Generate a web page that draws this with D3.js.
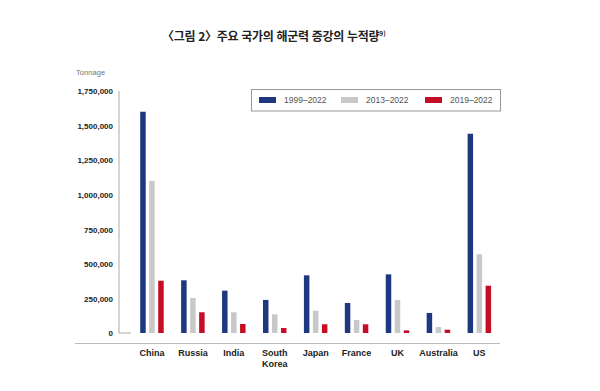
<!DOCTYPE html>
<html lang="ko">
<head>
<meta charset="UTF-8">
<style>
  body { margin: 0; background: #fff; }
  text { font-family: "Liberation Sans", Arial, sans-serif; }
  .title { font-family: "Noto Sans CJK KR", sans-serif; font-weight: bold; font-size: 12px; fill: #222; letter-spacing: -0.3px; }
  .axis-y text { font-weight: bold; font-size: 8px; fill: #222; }
  .cat { font-weight: bold; font-size: 9px; fill: #222; }
  .legend text { font-size: 8.5px; fill: #555; }
</style>
<script src="https://d3js.org/d3.v7.min.js"></script>
</head>
<body>
<svg id="chart"></svg>
<script>
var categories = ['China', 'Russia', 'India', 'South Korea', 'Japan', 'France', 'UK', 'Australia', 'US'];
var series = ['1999–2022', '2013–2022', '2019–2022'];
var v1999 = [1600000, 381000, 306000, 239000, 417000, 217000, 424000, 145000, 1441000];
var v2013 = [1100000, 253000, 150000, 135000, 161000, 94000, 239000, 43000, 569000];
var v2019 = [378000, 150000, 65000, 36000, 63000, 63000, 19000, 24000, 342000];
var yTicks = [0, 250000, 500000, 750000, 1000000, 1250000, 1500000, 1750000];
var colors = ['#1e3880', '#c8c8c8', '#c50e25'];

var values = [v1999, v2013, v2019];
var width = 600, height = 391;
var svg = d3.select('#chart').attr('width', width).attr('height', height);

var x0 = d3.scaleBand().domain(categories).range([131.5, 499.8]).padding(0);
var x1 = d3.scaleBand().domain(series).range([-13.5, 13.5])
  .paddingInner(0.39).paddingOuter(0.195);
var y = d3.scaleLinear().domain([0, 1750000]).range([333, 91]);

// title
var title = svg.append('text')
  .attr('class', 'title')
  .attr('x', 162)
  .attr('y', 41)
  .text('〈그림 2〉주요 국가의 해군력 증강의 누적량');
title.append('tspan')
  .attr('dy', -5)
  .attr('font-size', '6.5px')
  .attr('letter-spacing', '0')
  .text('9)');

svg.append('text')
  .attr('x', 76)
  .attr('y', 75)
  .attr('font-size', '7.6px')
  .attr('fill', '#777')
  .text('Tonnage');

// y axis
var yAxis = d3.axisLeft(y)
  .tickValues(yTicks)
  .tickFormat(d3.format(','))
  .tickSize(0)
  .tickPadding(6);
var gy = svg.append('g')
  .attr('class', 'axis-y')
  .attr('transform', 'translate(119,0)')
  .call(yAxis);
gy.select('.domain').remove();
gy.selectAll('text').attr('dy', '0.35em');

svg.append('path')
  .attr('d', 'M119,' + y(1750000) + 'V' + y(0) + 'H131')
  .attr('fill', 'none')
  .attr('stroke', '#aaa')
  .attr('stroke-width', 1);

// baseline rule under chart
svg.append('line')
  .attr('x1', 75).attr('x2', 500)
  .attr('y1', 343.5).attr('y2', 343.5)
  .attr('stroke', '#bbb')
  .attr('stroke-width', 1);

// bars
var groups = svg.selectAll('.grp')
  .data(categories)
  .enter()
  .append('g')
  .attr('class', 'grp')
  .attr('transform', function(d) {
    return 'translate(' + (x0(d) + x0.bandwidth() / 2) + ',0)';
  });

groups.selectAll('rect')
  .data(function(d, i) {
    return series.map(function(s, j) {
      return { s: s, v: values[j][i], c: colors[j] };
    });
  })
  .enter()
  .append('rect')
  .attr('x', function(d) { return x1(d.s); })
  .attr('width', x1.bandwidth())
  .attr('y', function(d) { return y(d.v); })
  .attr('height', function(d) { return y(0) - y(d.v); })
  .attr('fill', function(d) { return d.c; });

// category labels
groups.append('text')
  .attr('class', 'cat')
  .attr('text-anchor', 'middle')
  .attr('y', 356)
  .each(function(d) {
    var parts = d.split(' ');
    var t = d3.select(this);
    parts.forEach(function(p, k) {
      t.append('tspan').attr('x', 0).attr('dy', k === 0 ? 0 : 10.5).text(p);
    });
  });

// legend
var legend = svg.append('g').attr('class', 'legend');
legend.append('rect')
  .attr('x', 251.5).attr('y', 89.5)
  .attr('width', 249).attr('height', 21.5)
  .attr('fill', '#fff')
  .attr('stroke', '#999')
  .attr('stroke-width', 1);
var lx = [259, 341, 425];
series.forEach(function(s, j) {
  legend.append('rect')
    .attr('x', lx[j]).attr('y', 97)
    .attr('width', 17).attr('height', 6)
    .attr('fill', colors[j]);
  legend.append('text')
    .attr('x', lx[j] + 25).attr('y', 103)
    .text(s);
});
</script>
</body>
</html>
